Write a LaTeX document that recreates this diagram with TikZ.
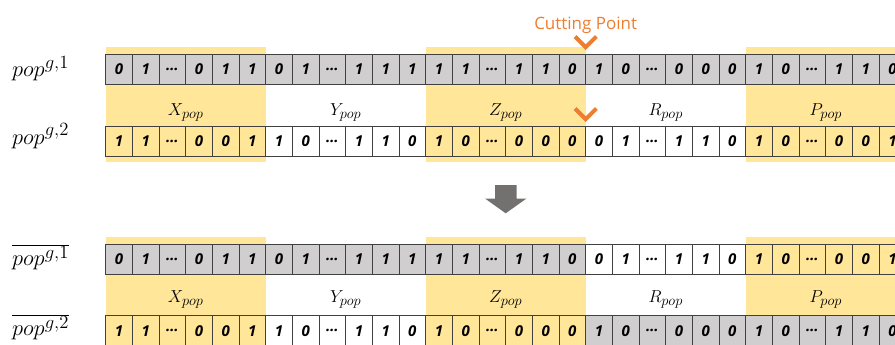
\documentclass[tikz,border=0pt]{standalone}
\usepackage{fontspec}
\newfontfamily\bitfont{Open Sans}
\newfontfamily\notefont{Open Sans}
\definecolor{bandyellow}{RGB}{255,230,153}
\definecolor{cellg}{RGB}{208,206,206}
\definecolor{celly}{RGB}{255,230,153}
\definecolor{cellw}{RGB}{255,255,255}
\definecolor{cellline}{RGB}{64,64,64}
\definecolor{cutorange}{RGB}{237,125,49}
\definecolor{arrowgray}{RGB}{115,112,112}

% one chromosome: #1 name, #2 top edge, #3 five segment fills, #4 thirty bits
\newcommand\bitrow[4]{%
  \foreach \f [count=\s from 0] in {#3} {
    \fill[fill=\f] ({105.7+160*\s},#2) rectangle +(160,30);
  }
  \foreach \b [count=\i from 0] in {#4} {
    \node[bitcell] (#1-\i) at ({105.7+26.667*\i},#2) {\b};
  }
}
% slightly enlarged script text
\newcommand\bigscript[1]{\scalebox{1.2}{$\scriptstyle #1$}}
% row names set a little larger than the largest math size
\newcommand\rowname[1]{\scalebox{1.08}{$#1$}}

\begin{document}
\begin{tikzpicture}[x=1pt,y=-1pt,
  bitcell/.style={draw=cellline, line width=0.9pt, minimum width=26.667pt,
    minimum height=30pt, inner sep=0pt, outer sep=0pt, anchor=north west,
    font=\bitfont\bfseries\itshape\fontsize{15}{17}\selectfont},
  seglabel/.style={anchor=base, inner sep=0pt, font=\fontsize{17.28}{20}\selectfont},
  rowlabel/.style={anchor=base west, inner sep=0pt, font=\fontsize{20.74}{24}\selectfont},
  band/.style={fill=bandyellow},
  chevron/.style={draw=cutorange, line width=4pt},
]
\useasboundingbox (0,0) rectangle (895,345);
\clip (0,0) rectangle (895,345);

% yellow bands behind segments X, Z and P
\foreach \s in {0,2,4} {
  \fill[band] ({105.7+160*\s},46.7) rectangle +(160,115);
  \fill[band] ({105.7+160*\s},236.7) rectangle +(160,115);
}

% parents
\bitrow{pa}{54.3}{cellg,cellg,cellg,cellg,cellg}
  {0,1,…,0,1,1,0,1,…,1,1,1,1,1,…,1,1,0,1,0,…,0,0,0,1,0,…,1,1,0}
\bitrow{pb}{126}{celly,cellw,celly,cellw,celly}
  {1,1,…,0,0,1,1,0,…,1,1,0,1,0,…,0,0,0,0,1,…,1,1,0,1,0,…,0,0,1}

% offspring
\bitrow{oa}{244.3}{cellg,cellg,cellg,cellw,celly}
  {0,1,…,0,1,1,0,1,…,1,1,1,1,1,…,1,1,0,0,1,…,1,1,0,1,0,…,0,0,1}
\bitrow{ob}{315.7}{celly,cellw,celly,cellg,cellg}
  {1,1,…,0,0,1,1,0,…,1,1,0,1,0,…,0,0,0,1,0,…,0,0,0,1,0,…,1,1,0}

% segment names
\foreach \n [count=\s from 0] in {X,Y,Z,R,P} {
  \node[seglabel] (lt\s) at ({185.7+160*\s},116) {$\n_{\bigscript{pop}}$};
  \node[seglabel] (lb\s) at ({185.7+160*\s},302.5) {$\n_{\bigscript{pop}}$};
}

% row names
\node[rowlabel] (na) at (12,76.7) {\rowname{pop^{\bigscript{g,1}}}};
\node[rowlabel] (nb) at (12,144) {\rowname{pop^{\bigscript{g,2}}}};
\node[rowlabel] (nc) at (12,265) {\rowname{\overline{pop^{\bigscript{g,1}}}}};
\node[rowlabel] (nd) at (12,335) {\rowname{\overline{pop^{\bigscript{g,2}}}}};

% cutting point
\node[anchor=base, inner sep=0pt, text=cutorange,
  font=\notefont\fontsize{17}{20}\selectfont] (cut) at (585.7,29.5) {Cutting Point};
\draw[chevron] (575,36.5) -- (585.7,47.2) -- (596.4,36.5);
\draw[chevron] (575,108.5) -- (585.7,119.2) -- (596.4,108.5);

% crossover arrow
\fill[arrowgray] (495,185) -- (516.5,185) -- (516.5,198.5) -- (526.5,198.5)
  -- (505.7,213.3) -- (485,198.5) -- (495,198.5) -- cycle;
\end{tikzpicture}
\end{document}
